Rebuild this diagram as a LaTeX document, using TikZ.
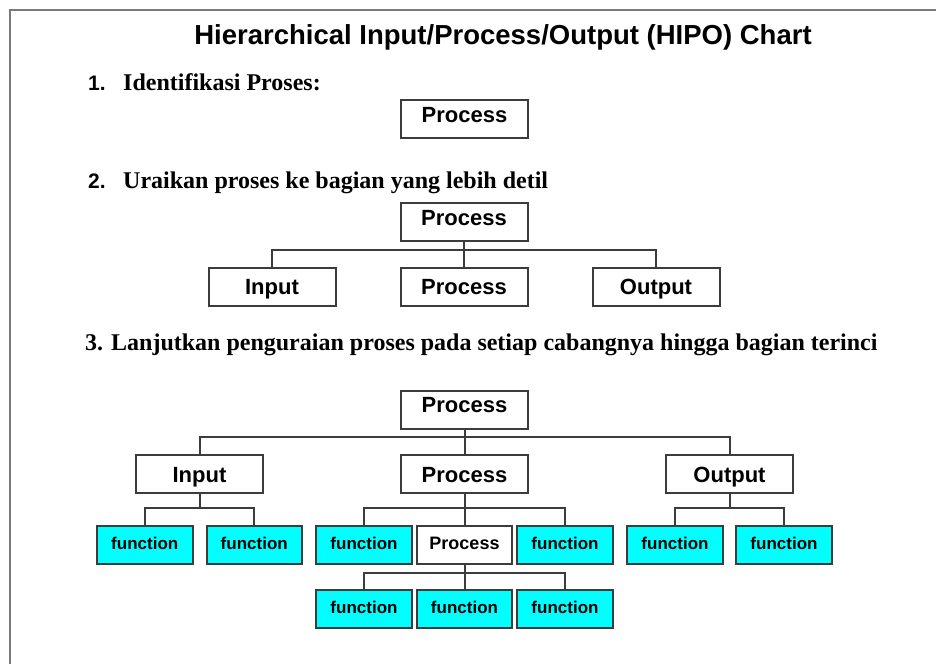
\documentclass[tikz,border=0pt]{standalone}
\usepackage{fontspec}
\setmainfont{Liberation Serif}
\setsansfont{Liberation Sans}
\definecolor{hipocyan}{HTML}{00FFFF}
\definecolor{hipoline}{HTML}{3C3C3C}
\definecolor{framegray}{HTML}{7A7A7A}

\begin{document}
\begin{tikzpicture}[x=1pt, y=1pt, level distance=64.5pt,
        every node/.append style={font=\sffamily\bfseries},
        edge from parent/.style={draw=hipoline, line width=2pt},
        hipo drop/.style={edge from parent path={(\tikzparentnode.south) -- +(0pt,-#1) -| (\tikzchildnode.north)}},
        level 1/.style={hipo drop=7.5pt},
        level 2/.style={level distance=70.5pt, hipo drop=14pt},
        level 3/.style={level distance=64.5pt, hipo drop=8pt}]
      \tikzstyle{box} = [draw=hipoline, line width=2pt, fill=white, minimum width=127pt, minimum height=38pt,
        text height=16pt, text depth=0pt, font=\sffamily\bfseries\fontsize{22}{24}\selectfont]
      \tikzstyle{rootbox} = [box, text depth=10pt]
      \tikzstyle{fbox} = [box, fill=hipocyan, minimum width=95.5pt, text height=12.5pt, text depth=3pt,
        font=\sffamily\bfseries\fontsize{17}{19}\selectfont]
      \tikzstyle{subbox} = [fbox, fill=white, font=\sffamily\bfseries\fontsize{18}{20}\selectfont]
      \tikzstyle{stepnum} = [anchor=base west, inner sep=0pt, font=\sffamily\bfseries\fontsize{21}{24}\selectfont]
      \tikzstyle{steptext} = [anchor=base west, inner sep=0pt, font=\rmfamily\bfseries\fontsize{24}{28}\selectfont]
      \useasboundingbox (0,0) rectangle (936,-664);
      \draw[framegray, line width=2pt] (10,-664) -- (10,-10) -- (936,-10);
      \node (title) [anchor=base, inner sep=0pt, font=\sffamily\bfseries\fontsize{27.5}{30}\selectfont]
        at (503,-44) {Hierarchical Input/Process/Output (HIPO) Chart};
      % 1
      \node (num1) [stepnum] at (88,-90) {1.};
      \node (text1) [steptext] at (123,-90) {Identifikasi Proses:};
      \node (proc1) [rootbox] at (464.5,-119) {Process};
      % 2
      \node (num2) [stepnum] at (88,-188) {2.};
      \node (text2) [steptext] at (123,-188) {Uraikan proses ke bagian yang lebih detil};
      \node (proc2) [rootbox] at (464,-222) {Process} [sibling distance=192pt]
        child {node (in2) [box] {Input}}
        child {node (pr2) [box] {Process}}
        child {node (out2) [box] {Output}};
      % 3
      \node (text3) [steptext] at (85,-350) {3. Lanjutkan penguraian proses pada setiap cabangnya hingga bagian terinci};
      \node (proc3) [rootbox] at (464.5,-409.5) {Process} [sibling distance=265pt]
        child {node (in3) [box] {Input} [sibling distance=109.5pt]
          child {node (in3a) [fbox] {function}}
          child {node (in3b) [fbox] {function}}
        }
        child {node (pr3) [box] {Process} [sibling distance=100.5pt]
          child {node (pr3a) [fbox] {function}}
          child {node (pr3b) [subbox] {Process}
          {
            child {node (pr3ba) [fbox] {function}}
            child {node (pr3bb) [fbox] {function}}
            child {node (pr3bc) [fbox] {function}}
          } }
          child {node (pr3c) [fbox] {function}}
        }
        child {node (out3) [box] {Output} [sibling distance=109pt]
          child {node (out3a) [fbox] {function}}
          child {node (out3b) [fbox] {function}}
        };
    \end{tikzpicture}
\end{document}
